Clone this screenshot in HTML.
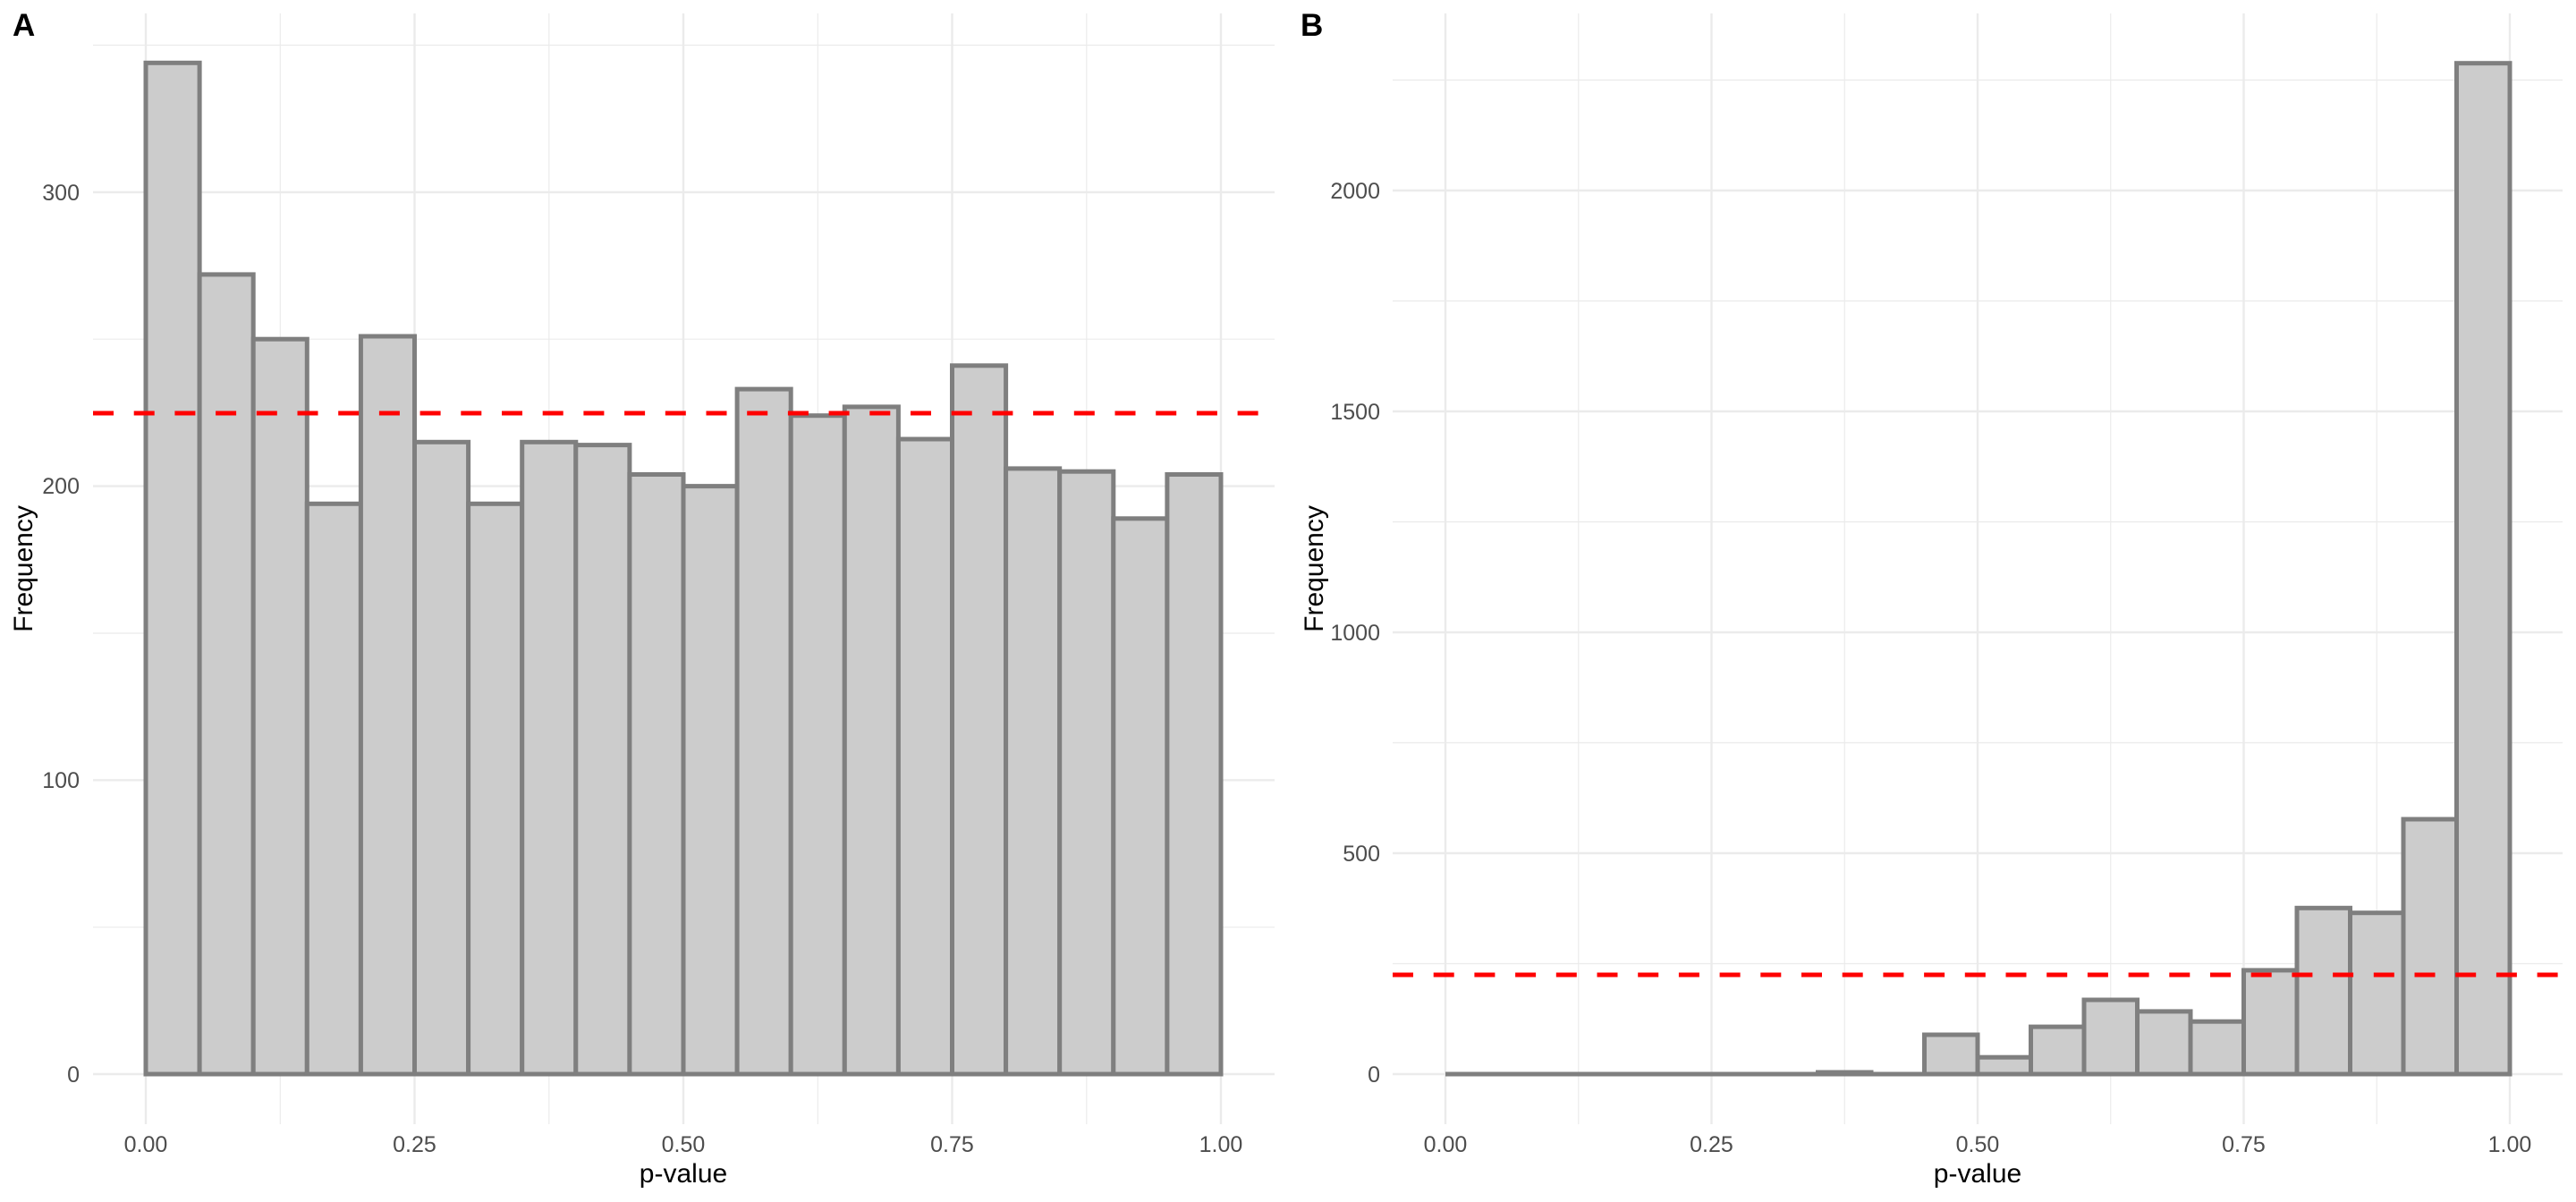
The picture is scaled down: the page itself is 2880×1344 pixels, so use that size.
<!DOCTYPE html>
<html><head><meta charset="utf-8"><style>html,body{margin:0;padding:0;background:#fff}svg{display:block}</style></head>
<body>
<svg width="2880" height="1344" viewBox="0 0 2880 1344" xmlns="http://www.w3.org/2000/svg" font-family="Liberation Sans, Arial, sans-serif">
<rect width="2880" height="1344" fill="#fff"/>
<!-- Panel A grid -->
<g stroke="#ebebeb" stroke-width="1.2">
<line x1="104" x2="1425" y1="1036.7" y2="1036.7"/><line x1="104" x2="1425" y1="708" y2="708"/><line x1="104" x2="1425" y1="379.2" y2="379.2"/><line x1="104" x2="1425" y1="50.5" y2="50.5"/>
<line x1="313.3" x2="313.3" y1="15" y2="1257"/><line x1="613.8" x2="613.8" y1="15" y2="1257"/><line x1="914.3" x2="914.3" y1="15" y2="1257"/><line x1="1214.8" x2="1214.8" y1="15" y2="1257"/>
</g>
<g stroke="#ebebeb" stroke-width="2.4">
<line x1="104" x2="1425" y1="1201" y2="1201"/><line x1="104" x2="1425" y1="872.3" y2="872.3"/><line x1="104" x2="1425" y1="543.6" y2="543.6"/><line x1="104" x2="1425" y1="214.9" y2="214.9"/>
<line x1="163" x2="163" y1="15" y2="1257"/><line x1="463.5" x2="463.5" y1="15" y2="1257"/><line x1="764" x2="764" y1="15" y2="1257"/><line x1="1064.5" x2="1064.5" y1="15" y2="1257"/><line x1="1365" x2="1365" y1="15" y2="1257"/>
</g>
<!-- Panel A bars -->
<g fill="#cccccc" stroke="#7f7f7f" stroke-width="5">
<rect x="163" y="70.3" width="60.1" height="1130.7"/>
<rect x="223.1" y="306.9" width="60.1" height="894.1"/>
<rect x="283.2" y="379.2" width="60.1" height="821.8"/>
<rect x="343.3" y="563.3" width="60.1" height="637.7"/>
<rect x="403.4" y="376" width="60.1" height="825"/>
<rect x="463.5" y="494.3" width="60.1" height="706.7"/>
<rect x="523.6" y="563.3" width="60.1" height="637.7"/>
<rect x="583.7" y="494.3" width="60.1" height="706.7"/>
<rect x="643.8" y="497.6" width="60.1" height="703.4"/>
<rect x="703.9" y="530.5" width="60.1" height="670.5"/>
<rect x="764" y="543.6" width="60.1" height="657.4"/>
<rect x="824.1" y="435.1" width="60.1" height="765.9"/>
<rect x="884.2" y="464.7" width="60.1" height="736.3"/>
<rect x="944.3" y="454.9" width="60.1" height="746.1"/>
<rect x="1004.4" y="491" width="60.1" height="710"/>
<rect x="1064.5" y="408.8" width="60.1" height="792.2"/>
<rect x="1124.6" y="523.9" width="60.1" height="677.1"/>
<rect x="1184.7" y="527.2" width="60.1" height="673.8"/>
<rect x="1244.8" y="579.8" width="60.1" height="621.2"/>
<rect x="1304.9" y="530.5" width="60.1" height="670.5"/>
</g>
<line x1="104" x2="1425" y1="462" y2="462" stroke="#ff0000" stroke-width="5" stroke-dasharray="23 22.7"/>
<!-- Panel A text -->
<g font-size="25" fill="#4d4d4d" text-anchor="end">
<text x="89" y="1210">0</text><text x="89" y="881">100</text><text x="89" y="552">200</text><text x="89" y="224">300</text>
</g>
<g font-size="25" fill="#4d4d4d" text-anchor="middle">
<text x="163" y="1288">0.00</text><text x="463.5" y="1288">0.25</text><text x="764" y="1288">0.50</text><text x="1064.5" y="1288">0.75</text><text x="1365" y="1288">1.00</text>
</g>
<text x="764" y="1322" font-size="30" text-anchor="middle" fill="#000">p-value</text>
<text transform="translate(36,636) rotate(-90)" font-size="30" text-anchor="middle" fill="#000">Frequency</text>
<text x="14" y="40" font-size="35" font-weight="bold" fill="#000">A</text>

<!-- Panel B grid -->
<g stroke="#ebebeb" stroke-width="1.2">
<line x1="1557" x2="2865" y1="1077.5" y2="1077.5"/><line x1="1557" x2="2865" y1="830.5" y2="830.5"/><line x1="1557" x2="2865" y1="583.5" y2="583.5"/><line x1="1557" x2="2865" y1="336.5" y2="336.5"/><line x1="1557" x2="2865" y1="89.5" y2="89.5"/>
<line x1="1764.75" x2="1764.75" y1="15" y2="1257"/><line x1="2062.25" x2="2062.25" y1="15" y2="1257"/><line x1="2359.75" x2="2359.75" y1="15" y2="1257"/><line x1="2657.25" x2="2657.25" y1="15" y2="1257"/>
</g>
<g stroke="#ebebeb" stroke-width="2.4">
<line x1="1557" x2="2865" y1="1201" y2="1201"/><line x1="1557" x2="2865" y1="954" y2="954"/><line x1="1557" x2="2865" y1="707" y2="707"/><line x1="1557" x2="2865" y1="460" y2="460"/><line x1="1557" x2="2865" y1="213" y2="213"/>
<line x1="1616" x2="1616" y1="15" y2="1257"/><line x1="1913.5" x2="1913.5" y1="15" y2="1257"/><line x1="2211" x2="2211" y1="15" y2="1257"/><line x1="2508.5" x2="2508.5" y1="15" y2="1257"/><line x1="2806" x2="2806" y1="15" y2="1257"/>
</g>
<!-- Panel B bars -->
<line x1="1616" x2="2151.5" y1="1201" y2="1201" stroke="#7f7f7f" stroke-width="5"/>
<g fill="#cccccc" stroke="#7f7f7f" stroke-width="5">
<rect x="2032.5" y="1199" width="59.5" height="2"/>
<rect x="2151.5" y="1157" width="59.5" height="44"/>
<rect x="2211" y="1182.2" width="59.5" height="18.8"/>
<rect x="2270.5" y="1148.1" width="59.5" height="52.9"/>
<rect x="2330" y="1118" width="59.5" height="83"/>
<rect x="2389.5" y="1130.9" width="59.5" height="70.1"/>
<rect x="2449" y="1142.2" width="59.5" height="58.8"/>
<rect x="2508.5" y="1084.9" width="59.5" height="116.1"/>
<rect x="2568" y="1015.3" width="59.5" height="185.7"/>
<rect x="2627.5" y="1020.7" width="59.5" height="180.3"/>
<rect x="2687" y="916" width="59.5" height="285"/>
<rect x="2746.5" y="70.7" width="59.5" height="1130.3"/>
</g>
<line x1="1557" x2="2865" y1="1090" y2="1090" stroke="#ff0000" stroke-width="5" stroke-dasharray="23 22.7"/>
<!-- Panel B text -->
<g font-size="25" fill="#4d4d4d" text-anchor="end">
<text x="1543" y="1210">0</text><text x="1543" y="963">500</text><text x="1543" y="716">1000</text><text x="1543" y="469">1500</text><text x="1543" y="222">2000</text>
</g>
<g font-size="25" fill="#4d4d4d" text-anchor="middle">
<text x="1616" y="1288">0.00</text><text x="1913.5" y="1288">0.25</text><text x="2211" y="1288">0.50</text><text x="2508.5" y="1288">0.75</text><text x="2806" y="1288">1.00</text>
</g>
<text x="2211" y="1322" font-size="30" text-anchor="middle" fill="#000">p-value</text>
<text transform="translate(1479,636) rotate(-90)" font-size="30" text-anchor="middle" fill="#000">Frequency</text>
<text x="1454" y="40" font-size="35" font-weight="bold" fill="#000">B</text>
</svg>
</body></html>
